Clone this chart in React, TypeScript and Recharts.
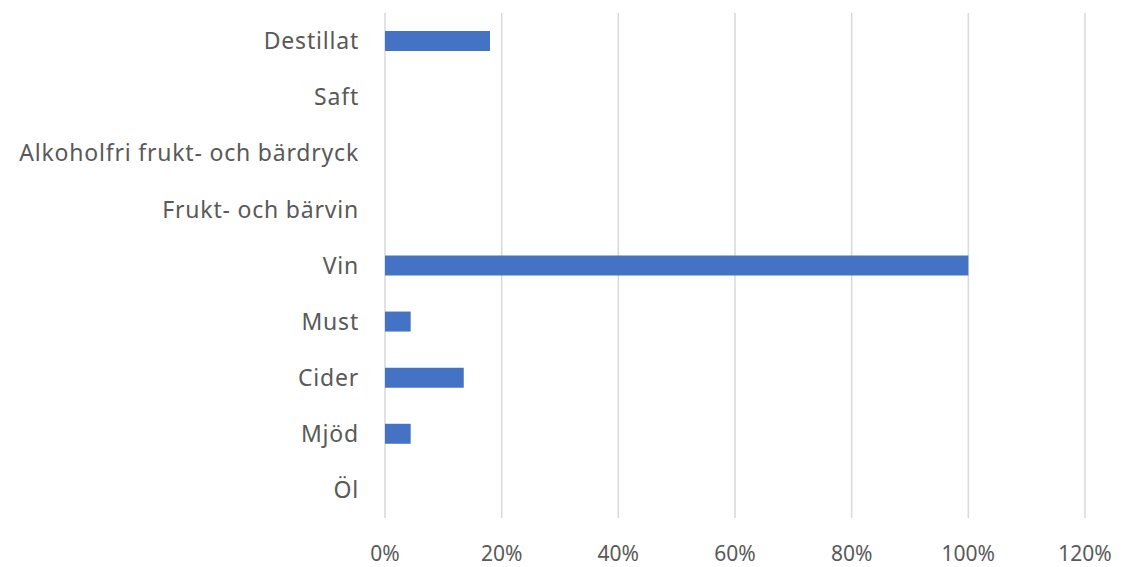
import React from "react";
import { BarChart, Bar, XAxis, YAxis, CartesianGrid } from "recharts";

const categories = [
  "Destillat",
  "Saft",
  "Alkoholfri frukt- och bärdryck",
  "Frukt- och bärvin",
  "Vin",
  "Must",
  "Cider",
  "Mjöd",
  "Öl",
];
const values = [18, 0, 0, 0, 100, 4.4, 13.5, 4.4, 0];
const xTicks = [0, 20, 40, 60, 80, 100, 120];

const data = categories.map((name, i) => ({ name, value: values[i] }));

export default function App() {
  return (
    <div style={{ position: "absolute", left: 0, top: 0, background: "#fff" }}>
      <BarChart
        width={1123}
        height={567}
        data={data}
        layout="vertical"
        margin={{ top: 13, right: 38, bottom: 0, left: 0 }}
        barCategoryGap={0}
      >
        <CartesianGrid horizontal={false} vertical={true} stroke="#d9d9d9" strokeWidth={1.5} />
        <XAxis
          type="number"
          domain={[0, 120]}
          ticks={xTicks}
          tickFormatter={(v) => `${v}%`}
          axisLine={false}
          tickLine={false}
          height={49}
          tickMargin={22}
          tick={{ fill: "#595959", fontSize: 21, fontFamily: "Noto Sans" }}
        />
        <YAxis
          type="category"
          dataKey="name"
          width={385}
          axisLine={false}
          tickLine={false}
          tickMargin={20}
          interval={0}
          tick={{ fill: "#595959", fontSize: 23, fontFamily: "Noto Sans", letterSpacing: 0.8 }}
        />
        <Bar dataKey="value" fill="#4472c4" barSize={20} isAnimationActive={false} />
      </BarChart>
    </div>
  );
}
